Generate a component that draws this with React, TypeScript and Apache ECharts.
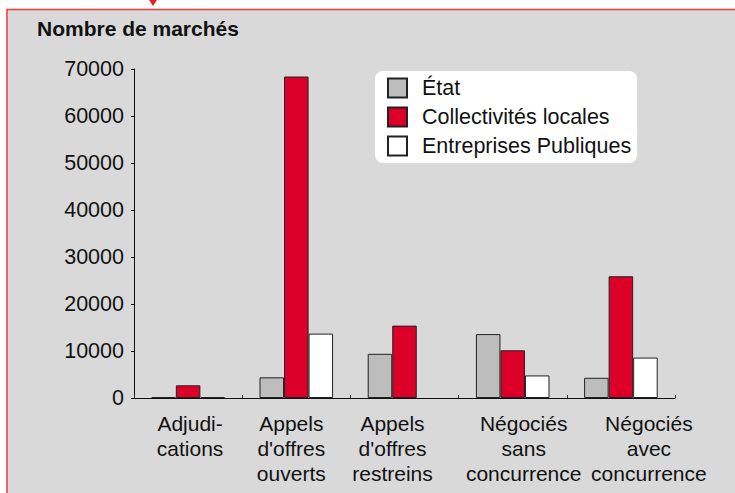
import React, { useEffect, useRef } from "react";
import * as echarts from "echarts";

const categories = [
  "Adjudi-\ncations",
  "Appels\nd'offres\nouverts",
  "Appels\nd'offres\nrestreins",
  "Négociés\nsans\nconcurrence",
  "Négociés\navec\nconcurrence",
];
const seriesNames = ["État", "Collectivités locales", "Entreprises Publiques"];
const etat = [200, 4400, 9400, 13600, 4300];
const collectivites = [2700, 68400, 15400, 10150, 25900];
const entreprises = [200, 13700, null, 4800, 8600];
const yTicks = { min: 0, max: 70000, interval: 10000 };
const yTitle = "Nombre de marchés";

const FONT = "'Liberation Sans', Arial, Helvetica, sans-serif";
const labelShift = [2, -5, -12, 11, 28];

export default function App() {
  const ref = useRef<HTMLDivElement>(null);
  useEffect(() => {
    if (!ref.current) return;
    const chart = echarts.init(ref.current, undefined, { renderer: "svg" });
    const rich: Record<string, any> = {};
    labelShift.forEach((dx, i) => {
      rich["c" + i] = {
        fontSize: 21,
        lineHeight: 25,
        color: "#111",
        fontFamily: FONT,
        padding: dx >= 0 ? [0, 0, 0, 2 * dx] : [0, -2 * dx, 0, 0],
      };
    });
    const border = { borderColor: "#222", borderWidth: 1 };
    chart.setOption({
      animation: false,
      backgroundColor: "#ffffff",
      textStyle: { fontFamily: FONT },
      graphic: [
        {
          type: "rect",
          z: -10,
          shape: { x: 7, y: 9.5, width: 800, height: 600 },
          style: { fill: "#d9d9d9", stroke: "#ee3b3b", lineWidth: 1.5 },
        },
        {
          type: "polygon",
          z: -9,
          shape: { points: [[149, 0], [157, 0], [153, 6]] },
          style: { fill: "#e8202a" },
        },
        {
          type: "text",
          z: -8,
          x: 37,
          y: 28,
          style: {
            text: yTitle,
            font: `bold 21px ${FONT}`,
            fill: "#111",
            verticalAlign: "middle",
          },
        },
      ],
      legend: {
        orient: "vertical",
        left: 375,
        top: 71,
        padding: [6, 6, 6, 12],
        backgroundColor: "#ffffff",
        borderRadius: 8,
        itemWidth: 19,
        itemHeight: 19,
        itemGap: 7,
        icon: "rect",
        textStyle: {
          fontSize: 21.5,
          color: "#111",
          fontFamily: FONT,
          padding: [0, 0, 0, 10],
        },
        data: seriesNames,
      },
      grid: { left: 134, right: 60, top: 69, bottom: 95, containLabel: false },
      xAxis: {
        type: "category",
        data: categories,
        axisLine: { lineStyle: { color: "#111", width: 1 } },
        axisTick: { show: true, inside: true, length: 3, lineStyle: { color: "#333" } },
        axisLabel: {
          interval: 0,
          margin: 13,
          formatter: (v: string, idx: number) =>
            v
              .split("\n")
              .map((l) => `{c${idx}|${l}}`)
              .join("\n"),
          rich,
        },
        splitLine: { show: false },
      },
      yAxis: {
        type: "value",
        min: yTicks.min,
        max: yTicks.max,
        interval: yTicks.interval,
        axisLine: { show: true, lineStyle: { color: "#111", width: 1 } },
        axisTick: { show: true, length: 3, lineStyle: { color: "#111" } },
        axisLabel: {
          fontSize: 21.5,
          color: "#111",
          margin: 10,
          fontFamily: FONT,
          formatter: (v: number) => String(v),
        },
        splitLine: { show: false },
      },
      series: [
        {
          name: seriesNames[0],
          type: "bar",
          data: etat,
          barGap: "0%",
          barCategoryGap: "32%",
          itemStyle: { color: "#bdbdbd", ...border },
        },
        {
          name: seriesNames[1],
          type: "bar",
          data: collectivites,
          barGap: "0%",
          barCategoryGap: "32%",
          itemStyle: { color: "#dc0028", ...border },
        },
        {
          name: seriesNames[2],
          type: "bar",
          data: entreprises,
          barGap: "0%",
          barCategoryGap: "32%",
          itemStyle: { color: "#ffffff", ...border },
        },
      ],
    });
    return () => chart.dispose();
  }, []);
  return (
    <div
      ref={ref}
      style={{ position: "fixed", left: 0, top: 0, width: 735, height: 493 }}
    />
  );
}
